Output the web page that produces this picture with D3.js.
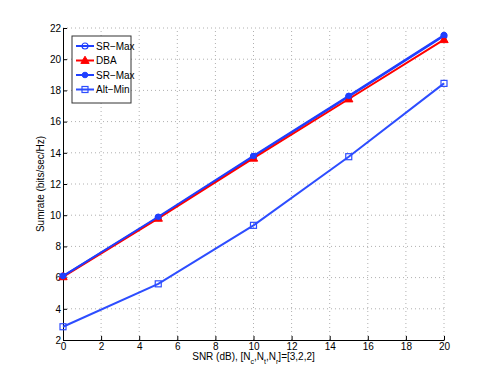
<!DOCTYPE html>
<html>
<head>
<meta charset="utf-8">
<script src="https://cdn.jsdelivr.net/npm/d3@7"></script>
<style>
  body { margin: 0; background: #fff; }
  text { font-family: "Liberation Sans", Arial, sans-serif; }
</style>
</head>
<body>
<div id="chart"></div>
<script>
// data
const snr = [0, 5, 10, 15, 20]
const srMaxA = [6.1, 9.85, 13.75, 17.6, 21.5]
const dba = [6.05, 9.8, 13.65, 17.45, 21.25]
const srMaxB = [6.1, 9.9, 13.8, 17.65, 21.55]
const altMin = [2.85, 5.6, 9.35, 13.75, 18.45]
const xTicks = [0, 2, 4, 6, 8, 10, 12, 14, 16, 18, 20]
const yTicks = [2, 4, 6, 8, 10, 12, 14, 16, 18, 20, 22]
const legendNames = ["SR\u2212Max", "DBA", "SR\u2212Max", "Alt\u2212Min"]

const width = 491, height = 382
const margin = { left: 63, right: 47, top: 28, bottom: 42 }

const svg = d3.select("#chart").append("svg")
    .attr("width", width)
    .attr("height", height)

const x = d3.scaleLinear().domain([0, 20]).range([margin.left, width - margin.right])
const y = d3.scaleLinear().domain([2, 22]).range([height - margin.bottom, margin.top])

// dotted grid
svg.append("g").selectAll("line").data(xTicks.slice(1)).join("line")
    .attr("x1", d => x(d)).attr("x2", d => x(d))
    .attr("y1", y(2)).attr("y2", y(22))
    .attr("stroke", "#b0b0b0").attr("stroke-width", 1)
    .attr("stroke-dasharray", "1,3")
svg.append("g").selectAll("line").data(yTicks.slice(1)).join("line")
    .attr("x1", x(0)).attr("x2", x(20))
    .attr("y1", d => y(d)).attr("y2", d => y(d))
    .attr("stroke", "#b0b0b0").attr("stroke-width", 1)
    .attr("stroke-dasharray", "1,3")

// axes
const xAxis = svg.append("g")
    .attr("transform", "translate(0," + y(2) + ")")
    .call(d3.axisBottom(x).tickValues(xTicks).tickSizeInner(-4).tickSizeOuter(0).tickPadding(3))
const yAxis = svg.append("g")
    .attr("transform", "translate(" + x(0) + ",0)")
    .call(d3.axisLeft(y).tickValues(yTicks).tickSizeInner(-4).tickSizeOuter(0).tickPadding(2))
for (const a of [xAxis, yAxis]) {
    a.selectAll("text").attr("font-size", 10).attr("fill", "#000")
        .attr("font-family", "Liberation Sans, Arial, sans-serif")
    a.selectAll("line").attr("stroke", "#000")
    a.select(".domain").attr("stroke", "#000")
}

// axis labels
svg.append("text")
    .attr("x", x(10)).attr("y", 360)
    .attr("text-anchor", "middle").attr("font-size", 10)
    .html('SNR (dB), [N<tspan baseline-shift="sub" font-size="7">c</tspan>,N<tspan baseline-shift="sub" font-size="7">t</tspan>,N<tspan baseline-shift="sub" font-size="7">r</tspan>]=[3,2,2]')
svg.append("text")
    .attr("transform", "translate(" + 44 + "," + y(12) + ") rotate(-90)")
    .attr("text-anchor", "middle").attr("font-size", 10)
    .text("Sumrate (bits/sec/Hz)")

const line = d3.line().x((d, i) => x(snr[i])).y(d => y(d))

const series = [
    { vals: srMaxA, color: "#1f3fff", marker: "circle" },
    { vals: dba, color: "#ff0000", marker: "triangle" },
    { vals: srMaxB, color: "#1f3fff", marker: "dot" },
    { vals: altMin, color: "#2d4dff", marker: "square" }
]

function drawMarker(g, type, cx, cy, color) {
    if (type == "circle") {
        g.append("circle").attr("cx", cx).attr("cy", cy).attr("r", 3)
            .attr("fill", "none").attr("stroke", color).attr("stroke-width", 1.2)
    } else if (type == "triangle") {
        g.append("path").attr("d", d3.symbol(d3.symbolTriangle, 30)())
            .attr("transform", "translate(" + cx + "," + (cy + 0.5) + ")")
            .attr("fill", color).attr("stroke", color)
    } else if (type == "dot") {
        g.append("circle").attr("cx", cx).attr("cy", cy).attr("r", 2.8)
            .attr("fill", color).attr("stroke", color)
    } else {
        g.append("rect").attr("x", cx - 3).attr("y", cy - 3).attr("width", 6).attr("height", 6)
            .attr("fill", "none").attr("stroke", color).attr("stroke-width", 1.2)
    }
}

for (const s of series) {
    svg.append("path").datum(s.vals)
        .attr("d", line).attr("fill", "none")
        .attr("stroke", s.color).attr("stroke-width", 2)
    const g = svg.append("g")
    s.vals.forEach((v, i) => drawMarker(g, s.marker, x(snr[i]), y(v), s.color))
}

// legend
const lg = svg.append("g").attr("transform", "translate(72,36)")
lg.append("rect").attr("width", 59).attr("height", 67)
    .attr("fill", "#fff").attr("stroke", "#333").attr("stroke-width", 1)
series.forEach((s, i) => {
    const ly = 10 + i * 14.5
    lg.append("line").attr("x1", 4).attr("x2", 22).attr("y1", ly).attr("y2", ly)
        .attr("stroke", s.color).attr("stroke-width", 2)
    drawMarker(lg, s.marker, 13, ly, s.color)
    lg.append("text").attr("x", 24).attr("y", ly + 3.5)
        .attr("font-size", 10).text(legendNames[i])
})
</script>
</body>
</html>
